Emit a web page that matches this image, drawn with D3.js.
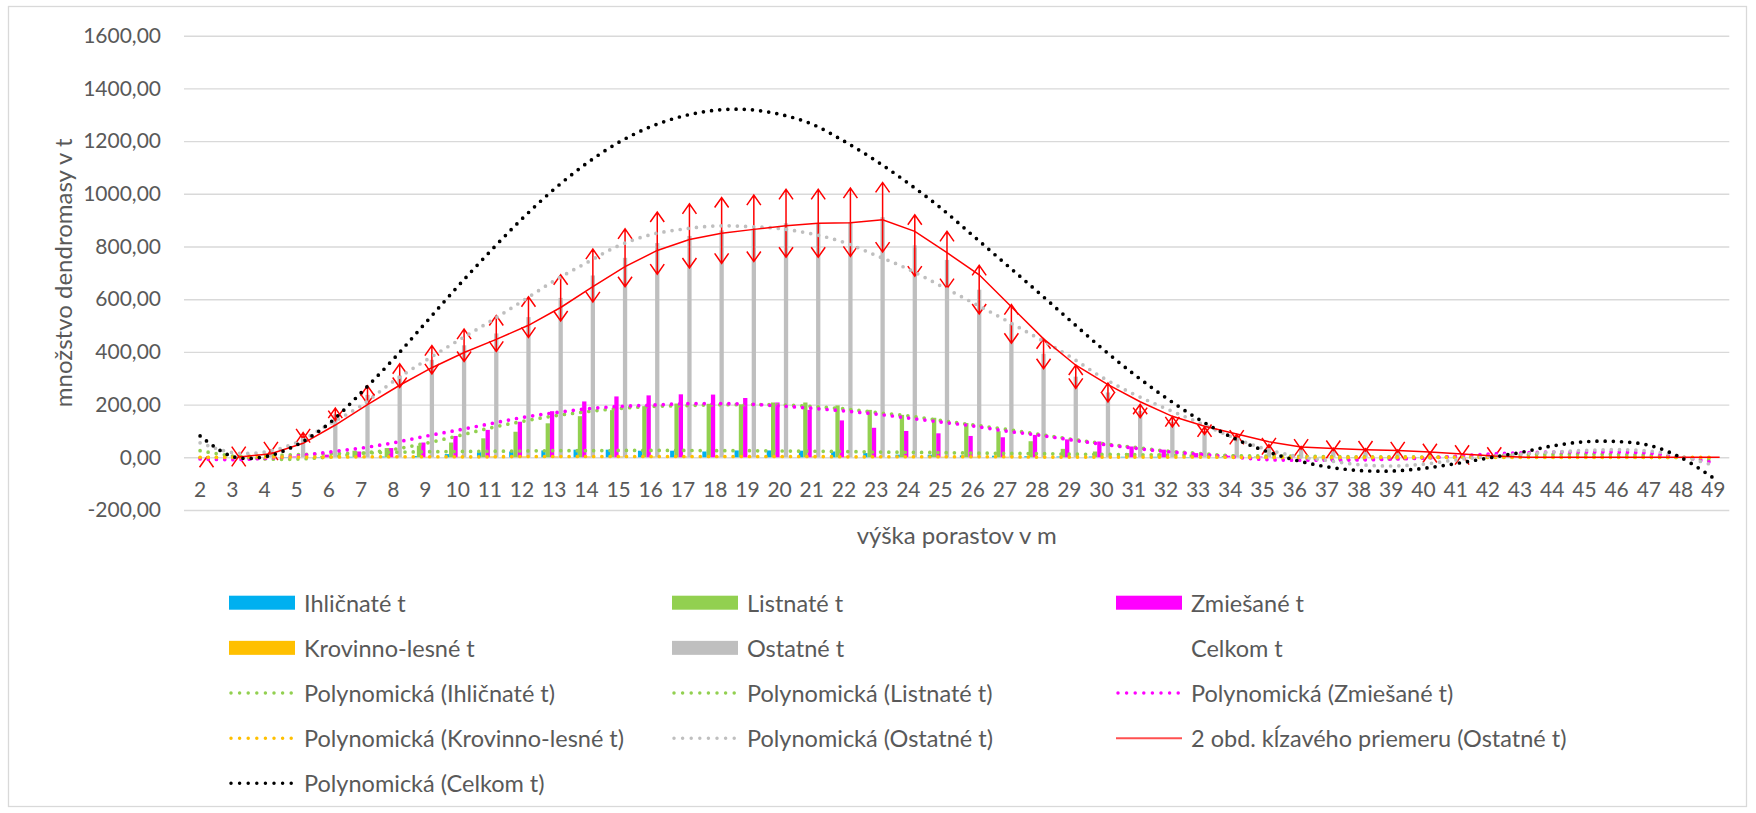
<!DOCTYPE html>
<html>
<head>
<meta charset="utf-8">
<script src="https://cdn.jsdelivr.net/npm/d3@7"></script>
<style>
  html, body { margin: 0; padding: 0; background: #ffffff; }
  svg { display: block; font-family: Lato, "Open Sans", sans-serif; }
</style>
</head>
<body>
<svg id="chart" width="1756" height="813"></svg>
<script>
// ---------------- DATA ----------------
const categories = ["2","3","4","5","6","7","8","9","10","11","12","13","14","15","16","17",
  "18","19","20","21","22","23","24","25","26","27","28","29","30","31","32","33",
  "34","35","36","37","38","39","40","41","42","43","44","45","46","47","48","49"];

const yTicks = [-200, 0, 200, 400, 600, 800, 1000, 1200, 1400, 1600];

const ihlicnate = [0,0,0,1,1,2,3,5,12,19,22,26,29,29,25,25,
  22,26,26,25,22,16,10,10,7,6,4,3,3,2,2,1,
  1,1,0,0,0,0,0,0,0,0,0,0,0,0,0,0];
const listnate = [0,0,0,2,5,25,35,44,56,72,97,129,156,179,194,204,
  203,201,208,208,197,180,161,150,130,99,61,32,22,16,14,10,
  5,3,2,2,1,1,1,0,0,0,0,0,0,0,0,0];
const zmiesane = [0,0,0,3,10,22,35,56,81,104,135,175,212,231,235,239,
  238,225,208,180,140,112,100,91,81,76,85,68,60,41,29,16,
  6,3,2,1,1,1,0,0,0,0,0,0,0,0,0,0];
const krovinno = [0,0,0,0,1,1,2,2,2,3,3,3,3,3,3,3,
  3,3,3,3,3,2,2,2,2,2,1,1,1,1,1,1,
  0,0,0,0,0,0,0,0,0,0,0,0,0,0,0,0];
const ostatne = [0,3,24,82,163,237,310,370,425,470,532,605,690,757,813,840,
  861,869,888,888,892,911,804,749,636,506,393,306,246,176,135,101,
  76,42,36,30,28,24,16,9,0,null,null,null,null,null,null,null];

// polynomial trend lines (value at each category)
const trendIhlicnate = [-2,2,6,10,13,16,19,21,22,23,24,25,25,26,26,26,
  25,25,24,23,22,20,19,18,16,15,14,12,11,10,9,8,
  6,5,4,3,2,2,1,1,1,1,1,1,1,0,-1,-4];
const trendListnate = [25,5,-6,-7,1,15,30,53,81,111,136,157,173,185,193,196,
  199,200,199,193,184,170,157,140,123,107,88,70,53,38,24,15,
  6,0,-4,-6,-6,-5,-2,2,6,9,11,12,11,8,0,-14];
const trendZmiesane = [-6,-9,-4,5,20,35,55,80,103,127,151,169,184,193,198,203,
  204,202,195,186,176,164,149,134,119,100,85,67,50,35,22,12,
  2,-8,-11,-11,-10,-7,-3,4,12,17,20,20,20,16,1,-20];
const trendKrovinno = [0,0,1,1,1,2,2,2,2,2,3,3,3,3,3,3,
  3,3,3,3,2,2,2,2,2,2,1,1,1,1,1,1,
  0,0,0,0,0,0,0,0,0,0,0,0,0,0,0,0];
const trendOstatne = [55,18,20,56,125,196,288,367,442,515,592,670,738,803,845,866,
  878,876,868,848,816,766,714,651,587,522,454,384,305,240,185,133,
  80,35,5,-12,-28,-33,-26,-10,3,12,20,26,29,24,4,-30];
const trendCelkom = [81,3,2,47,128,245,372,510,648,780,905,1018,1115,1195,1255,1295,
  1317,1320,1302,1265,1200,1125,1040,947,842,736,630,522,415,316,226,146,
  79,28,-10,-36,-50,-52,-42,-24,-3,18,43,59,60,46,-1,-78];

const errorPct = 0.145; // error bars on "Ostatné t" (percentage)

const seriesNames = ["Ihličnaté t","Listnaté t","Zmiešané t","Krovinno-lesné t","Ostatné t","Celkom t"];
const seriesColors = ["#00B0F0","#92D050","#FF00FF","#FFC000","#BFBFBF","none"];

// ---------------- BUILD ----------------
const celkom = categories.map((c,i) => (ihlicnate[i]||0)+(listnate[i]||0)+(zmiesane[i]||0)+(krovinno[i]||0)+(ostatne[i]||0));
const seriesValues = [ihlicnate, listnate, zmiesane, krovinno, ostatne, celkom];
const movingAvg = categories.map((c,i) => i === 0 ? null : ((ostatne[i-1]||0)+(ostatne[i]||0))/2);

const svg = d3.select("#chart");
const plot = {left: 184, right: 1729.3, top: 35.7, bottom: 510};

const x = d3.scaleBand().domain(categories).range([plot.left, plot.right]).paddingInner(0).paddingOuter(0);
const x1 = d3.scaleBand().domain(seriesNames).range([0, x.bandwidth()]).paddingInner(0).paddingOuter(0.75);
const y = d3.scaleLinear().domain([-200, 1600]).range([plot.bottom, plot.top]);

const loc = d3.formatLocale({decimal: ",", thousands: "", grouping: [3], currency: ["", ""], minus: "-"});
const fmt = loc.format(".2f");
const textColor = "#595959";

// outer border
svg.append("rect").attr("x", 8.5).attr("y", 6.5).attr("width", 1738).attr("height", 800)
  .attr("fill", "none").attr("stroke", "#D9D9D9").attr("stroke-width", 1.3);

// gridlines + y axis labels
const yAxis = d3.axisLeft(y).tickValues(yTicks).tickFormat(fmt).tickSize(-(plot.right - plot.left)).tickPadding(23);
const gy = svg.append("g").attr("transform", `translate(${plot.left},0)`).call(yAxis);
gy.select(".domain").remove();
gy.selectAll(".tick line").attr("stroke", "#D9D9D9").attr("stroke-width", 1.4);
gy.selectAll(".tick text").attr("fill", textColor).attr("font-size", 21).attr("font-family", "Lato, sans-serif");

// x axis labels
const xAxis = d3.axisBottom(x).tickSize(0).tickPadding(0);
const gx = svg.append("g").attr("transform", `translate(0,${y(0)})`).call(xAxis);
gx.select(".domain").remove();
gx.selectAll(".tick text").attr("fill", textColor).attr("font-size", 21)
  .attr("font-family", "Lato, sans-serif").attr("dy", null).attr("y", 31).attr("dominant-baseline", "central");

// bars
const barG = svg.append("g");
seriesNames.forEach((name, k) => {
  if (seriesColors[k] === "none") return;
  barG.append("g").selectAll("rect")
    .data(seriesValues[k].map((v, i) => ({v, c: categories[i]})).filter(d => d.v !== null && d.v > 0))
    .join("rect")
    .attr("x", d => x(d.c) + x1(name))
    .attr("width", x1.bandwidth())
    .attr("y", d => y(d.v))
    .attr("height", d => y(0) - y(d.v))
    .attr("fill", seriesColors[k]);
});

// trend line helper
const slotX = (name, c) => x(c) + x1(name) + x1.bandwidth() / 2;
const centerX = c => x(c) + x.bandwidth() / 2;
const dotW = 3.7, dotGap = "0 8.2";
function dotted(values, color) {
  const line = d3.line().x((d, i) => centerX(categories[i])).y(d => y(d)).curve(d3.curveCatmullRom.alpha(0.5));
  svg.append("path").attr("d", line(values)).attr("fill", "none").attr("stroke", color)
    .attr("stroke-width", dotW).attr("stroke-linecap", "round").attr("stroke-dasharray", dotGap);
}

// error bars (with open arrowheads) on Ostatné
const errG = svg.append("g").attr("stroke", "#FF0000").attr("stroke-width", 1.5).attr("fill", "none");
const aw = 7, ah = 10;
ostatne.forEach((v, i) => {
  if (v === null) return;
  const cx = slotX("Ostatné t", categories[i]);
  if (v === 0) {
    const ty = y(0);
    if (i === 0) errG.append("path").attr("d", `M${cx - aw},${ty + ah}L${cx},${ty}L${cx + aw},${ty + ah}`);
    else errG.append("path").attr("d", `M${cx - aw},${ty - ah}L${cx},${ty}L${cx + aw},${ty - ah}`);
    return;
  }
  const e = v * errorPct;
  const yt = y(v + e), yb = y(v - e);
  errG.append("path").attr("d",
    `M${cx},${yb}L${cx},${yt}` +
    `M${cx - aw},${yt + ah}L${cx},${yt}L${cx + aw},${yt + ah}` +
    `M${cx - aw},${yb - ah}L${cx},${yb}L${cx + aw},${yb - ah}`);
});

// trendlines
dotted(trendIhlicnate, "#92D050");
dotted(trendListnate, "#92D050");
dotted(trendZmiesane, "#FF00FF");
dotted(trendKrovinno, "#FFC000");
dotted(trendOstatne, "#BFBFBF");

// moving average
const maLine = d3.line().defined(d => d.v !== null)
  .x(d => slotX("Ostatné t", d.c)).y(d => y(d.v));
svg.append("path").attr("d", maLine(movingAvg.map((v, i) => ({v, c: categories[i]}))))
  .attr("fill", "none").attr("stroke", "#FF0000").attr("stroke-width", 1.5);

dotted(trendCelkom, "#000000");

// axis titles
svg.append("text").attr("transform", `translate(62,${(plot.top + plot.bottom) / 2}) rotate(-90)`)
  .attr("text-anchor", "middle").attr("dominant-baseline", "central")
  .attr("fill", textColor).attr("font-size", 24).text("množstvo dendromasy v t");
svg.append("text").attr("x", (plot.left + plot.right) / 2).attr("y", 534)
  .attr("text-anchor", "middle").attr("dominant-baseline", "central")
  .attr("fill", textColor).attr("font-size", 24).text("výška porastov v m");

// legend
const legendItems = [
  {label: "Ihličnaté t", type: "bar", color: "#00B0F0"},
  {label: "Listnaté t", type: "bar", color: "#92D050"},
  {label: "Zmiešané t", type: "bar", color: "#FF00FF"},
  {label: "Krovinno-lesné t", type: "bar", color: "#FFC000"},
  {label: "Ostatné t", type: "bar", color: "#BFBFBF"},
  {label: "Celkom t", type: "none"},
  {label: "Polynomická (Ihličnaté t)", type: "dot", color: "#92D050"},
  {label: "Polynomická (Listnaté t)", type: "dot", color: "#92D050"},
  {label: "Polynomická (Zmiešané t)", type: "dot", color: "#FF00FF"},
  {label: "Polynomická (Krovinno-lesné t)", type: "dot", color: "#FFC000"},
  {label: "Polynomická (Ostatné t)", type: "dot", color: "#BFBFBF"},
  {label: "2 obd. kĺzavého priemeru (Ostatné t)", type: "line", color: "#FF5050"},
  {label: "Polynomická (Celkom t)", type: "dot", color: "#000000"}
];
const colX = [229, 672, 1116];
const rowY0 = 602.7, rowStep = 45.15;
const lg = svg.append("g");
legendItems.forEach((it, idx) => {
  const lx = colX[idx % 3], ly = rowY0 + Math.floor(idx / 3) * rowStep;
  if (it.type === "bar") {
    lg.append("rect").attr("x", lx).attr("y", ly - 7).attr("width", 66).attr("height", 14).attr("fill", it.color);
  } else if (it.type === "dot") {
    lg.append("line").attr("x1", lx + 2).attr("x2", lx + 66).attr("y1", ly).attr("y2", ly)
      .attr("stroke", it.color).attr("stroke-width", 3.5).attr("stroke-linecap", "round").attr("stroke-dasharray", "0 8.6");
  } else if (it.type === "line") {
    lg.append("line").attr("x1", lx).attr("x2", lx + 66).attr("y1", ly).attr("y2", ly)
      .attr("stroke", it.color).attr("stroke-width", 2);
  }
  lg.append("text").attr("x", lx + 75).attr("y", ly).attr("dominant-baseline", "central")
    .attr("fill", textColor).attr("font-size", 23.5).text(it.label);
});
</script>
</body>
</html>
